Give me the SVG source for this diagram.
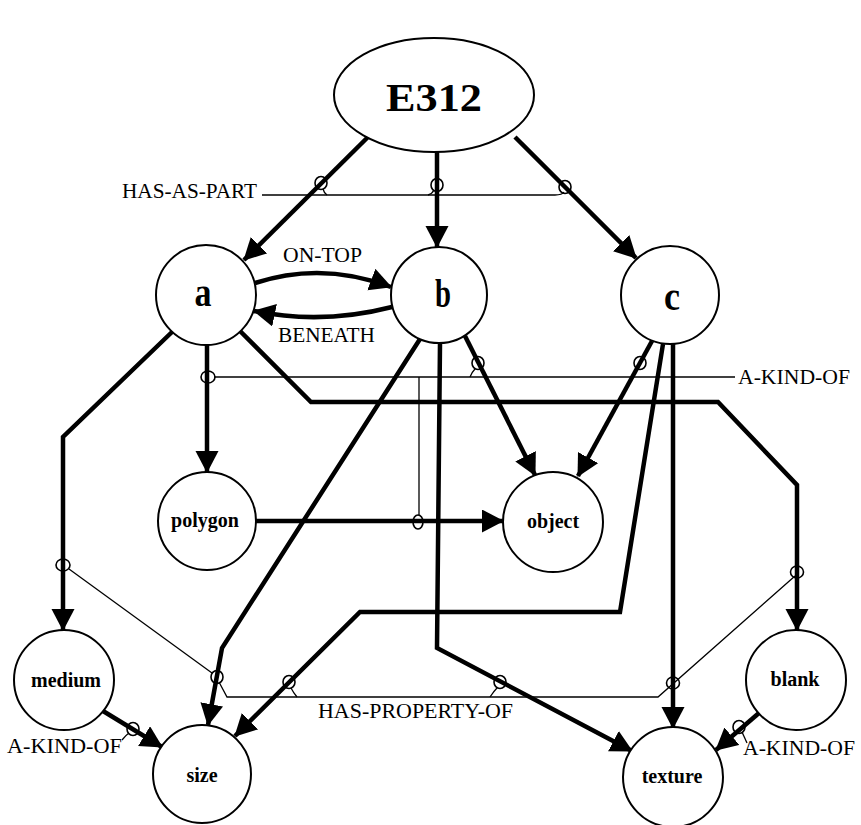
<svg xmlns="http://www.w3.org/2000/svg" width="861" height="825" viewBox="0 0 861 825">
<defs>
<marker id="ah" markerUnits="userSpaceOnUse" markerWidth="24" markerHeight="24" refX="21" refY="11.5" orient="auto">
<path d="M0,0 L22,11.5 L0,23 Z" fill="#000"/>
</marker>
</defs>
<style>
.node{fill:#fff;stroke:#000;stroke-width:2}
.big{font-family:"Liberation Serif",serif;font-weight:bold;font-size:40px;text-anchor:middle}
.lbl{font-family:"Liberation Serif",serif;font-weight:bold;font-size:20px;text-anchor:middle}
.rel{font-family:"Liberation Serif",serif;font-size:21px}
.e{fill:none;stroke:#000;stroke-width:4.5;stroke-linejoin:miter;marker-end:url(#ah)}
.t{fill:none;stroke:#000;stroke-width:1.3}
.m{fill:none;stroke:#000;stroke-width:1.6}
</style>
<rect width="861" height="825" fill="#fff"/>
<g id="connectors">
<path class="e" d="M368,137 L244,260"/>
<path class="e" d="M437,152 L437,247"/>
<path class="e" d="M515,137 L636,258"/>
<path class="e" d="M255,283 Q322,261 391,287"/>
<path class="e" d="M392,307 Q322,325 254,311"/>
<path class="e" d="M207,345 L207,472"/>
<path class="e" d="M172,332 L63,437 L63,630"/>
<path class="e" d="M240,331 L311,402 L718,402 L797,485 L797,630"/>
<path class="e" d="M465,336 L535,475"/>
<path class="e" d="M420,339 L222,648 L208,725"/>
<path class="e" d="M440,343 L437,648 L632,751"/>
<path class="e" d="M652,341 L578,476"/>
<path class="e" d="M663,344 L620,612 L360,612 L235,736"/>
<path class="e" d="M673,344 L673,728"/>
<path class="e" d="M256,521 L503,521"/>
<path class="e" d="M103,711 L162,747"/>
<path class="e" d="M759,713 L716,750"/>
<path class="t" d="M262,195 L555,195 Q562,195 564,192"/>
<path class="t" d="M327,195 Q324,193 323,189"/>
<path class="t" d="M428,195 Q432,194 434,190"/>
<path class="t" d="M214,377 L735,377"/>
<path class="t" d="M470,377 Q472,372 475,369"/>
<path class="t" d="M632,377 Q635,372 637,369"/>
<path class="t" d="M419,377 L419,515"/>
<path class="t" d="M69,569 L212,673"/>
<path class="t" d="M219,682 L227,697 L658,697 L795,576"/>
<path class="t" d="M297,697 Q293,692 291,688"/>
<path class="t" d="M490,697 Q494,691 497,688"/>
<path class="t" d="M122,740 Q126,735 129,733"/>
<path class="t" d="M742,732 L747,743"/>
<ellipse class="m" cx="321" cy="183" rx="6" ry="6.5"/>
<ellipse class="m" cx="437" cy="185" rx="6" ry="6.5"/>
<ellipse class="m" cx="565" cy="187" rx="6" ry="6.5"/>
<ellipse class="m" cx="208" cy="377" rx="7" ry="6"/>
<ellipse class="m" cx="478" cy="363" rx="6" ry="6.5"/>
<ellipse class="m" cx="640" cy="363" rx="6" ry="6.5"/>
<ellipse class="m" cx="418" cy="522" rx="5" ry="7"/>
<ellipse class="m" cx="63" cy="565" rx="7" ry="6"/>
<ellipse class="m" cx="217" cy="677" rx="6" ry="6.5"/>
<ellipse class="m" cx="289" cy="682" rx="6" ry="6.5"/>
<ellipse class="m" cx="500" cy="682" rx="6" ry="6.5"/>
<ellipse class="m" cx="673" cy="683" rx="6.5" ry="6"/>
<ellipse class="m" cx="797" cy="572" rx="6.5" ry="6"/>
<ellipse class="m" cx="133" cy="729" rx="6" ry="6.5"/>
<ellipse class="m" cx="739" cy="727" rx="6" ry="6.5"/>
<text class="rel" x="122" y="198" textLength="135" lengthAdjust="spacingAndGlyphs">HAS-AS-PART</text>
<text class="rel" x="283" y="262" textLength="79" lengthAdjust="spacingAndGlyphs">ON-TOP</text>
<text class="rel" x="278" y="342" textLength="97" lengthAdjust="spacingAndGlyphs">BENEATH</text>
<text class="rel" x="738" y="384" textLength="112" lengthAdjust="spacingAndGlyphs">A-KIND-OF</text>
<text class="rel" x="318" y="718" textLength="195" lengthAdjust="spacingAndGlyphs">HAS-PROPERTY-OF</text>
<text class="rel" x="7" y="753" textLength="115" lengthAdjust="spacingAndGlyphs">A-KIND-OF</text>
<text class="rel" x="743" y="755" textLength="112" lengthAdjust="spacingAndGlyphs">A-KIND-OF</text>
</g>
<g id="E312"><ellipse class="node" cx="434" cy="95" rx="100" ry="57"/><text class="big" x="434" y="111" font-size="52" textLength="96" lengthAdjust="spacingAndGlyphs">E312</text></g>
<g id="a"><circle class="node" cx="206" cy="295" r="50"/><text class="big" x="203" y="306" textLength="17" lengthAdjust="spacingAndGlyphs">a</text></g>
<g id="b"><circle class="node" cx="439" cy="295" r="48"/><text class="big" x="443" y="307" textLength="16" lengthAdjust="spacingAndGlyphs">b</text></g>
<g id="c"><circle class="node" cx="670" cy="295" r="49"/><text class="big" x="672" y="310" textLength="16" lengthAdjust="spacingAndGlyphs">c</text></g>
<g id="polygon"><circle class="node" cx="207" cy="521" r="49"/><text class="lbl" x="205" y="527">polygon</text></g>
<g id="object"><circle class="node" cx="553" cy="522" r="50"/><text class="lbl" x="553" y="528">object</text></g>
<g id="medium"><circle class="node" cx="64" cy="680" r="50"/><text class="lbl" x="66" y="687">medium</text></g>
<g id="size"><circle class="node" cx="202" cy="774" r="49"/><text class="lbl" x="202" y="782">size</text></g>
<g id="texture"><circle class="node" cx="673" cy="777" r="50"/><text class="lbl" x="672" y="783">texture</text></g>
<g id="blank"><circle class="node" cx="796" cy="680" r="50"/><text class="lbl" x="795" y="686">blank</text></g>
</svg>
